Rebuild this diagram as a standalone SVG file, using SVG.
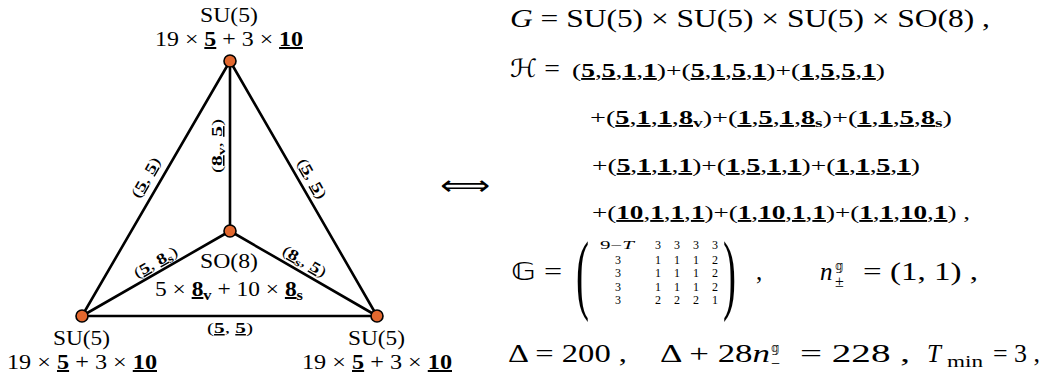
<svg xmlns="http://www.w3.org/2000/svg" width="1043" height="379" viewBox="0 0 1043 379">
<style>
text { font-family: "Liberation Serif", "Times New Roman", serif; fill: #000; }
.b { font-weight: bold; text-decoration: underline; }
.bs { font-weight: bold; }
.i { font-style: italic; }
.sym { font-family: "DejaVu Sans", "DejaVu Serif", sans-serif; }
.n20 { font-size: 20px; }
.e15 { font-size: 15px; }
.eq { font-size: 25px; }
.tp { font-size: 19px; }
.mx { font-size: 12px; }
.edge { stroke: #000; stroke-width: 2.6; stroke-linecap: round; fill: none; }
.node { fill: #E2682F; stroke: #000; stroke-width: 1.6; }
</style>
<rect width="1043" height="379" fill="#fff"/>
<g id="connectors">
  <line class="edge" x1="230" y1="61" x2="82" y2="316"/>
  <line class="edge" x1="230" y1="61" x2="377" y2="316"/>
  <line class="edge" x1="230" y1="61" x2="230" y2="231"/>
  <line class="edge" x1="82" y1="316" x2="377" y2="316"/>
  <line class="edge" x1="82" y1="316" x2="230" y2="231"/>
  <line class="edge" x1="230" y1="231" x2="377" y2="316"/>
  <text class="e15" x="207" y="333" textLength="46" lengthAdjust="spacingAndGlyphs">(<tspan class="b">5</tspan>, <tspan class="b">5</tspan>)</text>
  <text class="e15" transform="translate(150,180) rotate(-60)" x="-22" y="0" textLength="44" lengthAdjust="spacingAndGlyphs">(<tspan class="b">5</tspan>, <tspan class="b">5</tspan>)</text>
  <text class="e15" transform="translate(308,181) rotate(60)" x="-22" y="0" textLength="44" lengthAdjust="spacingAndGlyphs">(<tspan class="b">5</tspan>, <tspan class="b">5</tspan>)</text>
  <text class="e15" transform="translate(222,146) rotate(-90)" x="-27" y="0" textLength="54" lengthAdjust="spacingAndGlyphs">(<tspan class="b">8</tspan><tspan class="bs" font-size="11" dy="3">v</tspan><tspan dy="-3">, </tspan><tspan class="b">5</tspan>)</text>
  <text class="e15" transform="translate(158,266.5) rotate(-30)" x="-24" y="0" textLength="48" lengthAdjust="spacingAndGlyphs">(<tspan class="b">5</tspan>, <tspan class="b">8</tspan><tspan class="bs" font-size="11" dy="3">s</tspan><tspan dy="-3">)</tspan></text>
  <text class="e15" transform="translate(302,265.5) rotate(30)" x="-24" y="0" textLength="48" lengthAdjust="spacingAndGlyphs">(<tspan class="b">8</tspan><tspan class="bs" font-size="11" dy="3">s</tspan><tspan dy="-3">, </tspan><tspan class="b">5</tspan>)</text>
</g>
<g id="node-top">
  <circle class="node" cx="230" cy="61" r="6"/>
  <text class="n20" x="200" y="22" textLength="58" lengthAdjust="spacingAndGlyphs">SU(5)</text>
  <text class="n20" x="155" y="46" textLength="148" lengthAdjust="spacingAndGlyphs">19 × <tspan class="b">5</tspan> + 3 × <tspan class="b">10</tspan></text>
</g>
<g id="node-left">
  <circle class="node" cx="82" cy="316" r="6"/>
  <text class="n20" x="53" y="345" textLength="57" lengthAdjust="spacingAndGlyphs">SU(5)</text>
  <text class="n20" x="7" y="369" textLength="150" lengthAdjust="spacingAndGlyphs">19 × <tspan class="b">5</tspan> + 3 × <tspan class="b">10</tspan></text>
</g>
<g id="node-right">
  <circle class="node" cx="377" cy="316" r="6"/>
  <text class="n20" x="348" y="345" textLength="57" lengthAdjust="spacingAndGlyphs">SU(5)</text>
  <text class="n20" x="302" y="369" textLength="150" lengthAdjust="spacingAndGlyphs">19 × <tspan class="b">5</tspan> + 3 × <tspan class="b">10</tspan></text>
</g>
<g id="node-center">
  <circle class="node" cx="230" cy="231" r="6"/>
  <text class="n20" x="200" y="268" textLength="58" lengthAdjust="spacingAndGlyphs">SO(8)</text>
  <text class="n20" x="155" y="296" textLength="148" lengthAdjust="spacingAndGlyphs">5 × <tspan class="b">8</tspan><tspan class="bs" font-size="14" dy="4">v</tspan><tspan dy="-4"> + 10 × </tspan><tspan class="b">8</tspan><tspan class="bs" font-size="14" dy="4">s</tspan></text>
</g>
<g id="equivalence">
  <text class="sym" x="440" y="195" font-size="28" textLength="50" lengthAdjust="spacingAndGlyphs">⟺</text>
</g>
<g id="equations">
  <text class="eq" x="510" y="27" textLength="480" lengthAdjust="spacingAndGlyphs"><tspan class="i">G</tspan> = SU(5) × SU(5) × SU(5) × SO(8) ,</text>
  <text class="eq" x="510" y="77" textLength="50" lengthAdjust="spacingAndGlyphs"><tspan class="sym">ℋ</tspan> =</text>
  <text class="tp" x="572" y="77" textLength="313" lengthAdjust="spacingAndGlyphs">(<tspan class="b">5</tspan>,<tspan class="b">5</tspan>,<tspan class="b">1</tspan>,<tspan class="b">1</tspan>)+(<tspan class="b">5</tspan>,<tspan class="b">1</tspan>,<tspan class="b">5</tspan>,<tspan class="b">1</tspan>)+(<tspan class="b">1</tspan>,<tspan class="b">5</tspan>,<tspan class="b">5</tspan>,<tspan class="b">1</tspan>)</text>
  <text class="tp" x="590" y="124" textLength="362" lengthAdjust="spacingAndGlyphs">+(<tspan class="b">5</tspan>,<tspan class="b">1</tspan>,<tspan class="b">1</tspan>,<tspan class="b">8</tspan><tspan class="bs" font-size="13" dy="3">v</tspan><tspan dy="-3">)+(</tspan><tspan class="b">1</tspan>,<tspan class="b">5</tspan>,<tspan class="b">1</tspan>,<tspan class="b">8</tspan><tspan class="bs" font-size="13" dy="3">s</tspan><tspan dy="-3">)+(</tspan><tspan class="b">1</tspan>,<tspan class="b">1</tspan>,<tspan class="b">5</tspan>,<tspan class="b">8</tspan><tspan class="bs" font-size="13" dy="3">s</tspan><tspan dy="-3">)</tspan></text>
  <text class="tp" x="592" y="172" textLength="328" lengthAdjust="spacingAndGlyphs">+(<tspan class="b">5</tspan>,<tspan class="b">1</tspan>,<tspan class="b">1</tspan>,<tspan class="b">1</tspan>)+(<tspan class="b">1</tspan>,<tspan class="b">5</tspan>,<tspan class="b">1</tspan>,<tspan class="b">1</tspan>)+(<tspan class="b">1</tspan>,<tspan class="b">1</tspan>,<tspan class="b">5</tspan>,<tspan class="b">1</tspan>)</text>
  <text class="tp" x="592" y="219" textLength="378" lengthAdjust="spacingAndGlyphs">+(<tspan class="b">10</tspan>,<tspan class="b">1</tspan>,<tspan class="b">1</tspan>,<tspan class="b">1</tspan>)+(<tspan class="b">1</tspan>,<tspan class="b">10</tspan>,<tspan class="b">1</tspan>,<tspan class="b">1</tspan>)+(<tspan class="b">1</tspan>,<tspan class="b">1</tspan>,<tspan class="b">10</tspan>,<tspan class="b">1</tspan>) ,</text>
  <text class="eq" x="511" y="280" textLength="51" lengthAdjust="spacingAndGlyphs"><tspan class="sym">𝔾</tspan> =</text>
  <text transform="translate(576,303) scale(1.3,2.95)" font-size="30">(</text>
  <text transform="translate(723,303) scale(1.3,2.95)" font-size="30">)</text>
  <text class="mx" x="600" y="249" textLength="34" lengthAdjust="spacingAndGlyphs">9−<tspan class="i">T</tspan></text>
  <text class="mx" text-anchor="middle"><tspan x="658 677 696 715" y="249">3333</tspan><tspan x="618 658 677 696 715" y="264">31112</tspan><tspan x="618 658 677 696 715" y="277.3">31112</tspan><tspan x="618 658 677 696 715" y="290.6">31112</tspan><tspan x="618 658 677 696 715" y="304">32221</tspan></text>
  <text class="eq" x="756" y="280">,</text>
  <text class="eq i" x="820" y="280">n</text>
  <text x="835" y="287" font-size="16">±</text>
  <text class="sym" x="835" y="270" font-size="12">𝕘</text>
  <text class="eq" x="863" y="280" textLength="115" lengthAdjust="spacingAndGlyphs">= (1, 1) ,</text>
  <text class="eq" x="508" y="362" textLength="119" lengthAdjust="spacingAndGlyphs">Δ = 200 ,</text>
  <text class="eq" x="660" y="362" textLength="110" lengthAdjust="spacingAndGlyphs">Δ + 28<tspan class="i">n</tspan></text>
  <text x="771" y="369" font-size="16">−</text>
  <text class="sym" x="771" y="352" font-size="12">𝕘</text>
  <text class="eq" x="800" y="362" textLength="110" lengthAdjust="spacingAndGlyphs">= 228 ,</text>
  <text class="eq i" x="927" y="362">T</text>
  <text x="947" y="367" font-size="16" textLength="36" lengthAdjust="spacingAndGlyphs">min</text>
  <text class="eq" x="993" y="362" textLength="47" lengthAdjust="spacingAndGlyphs">= 3 ,</text>
</g>
</svg>
